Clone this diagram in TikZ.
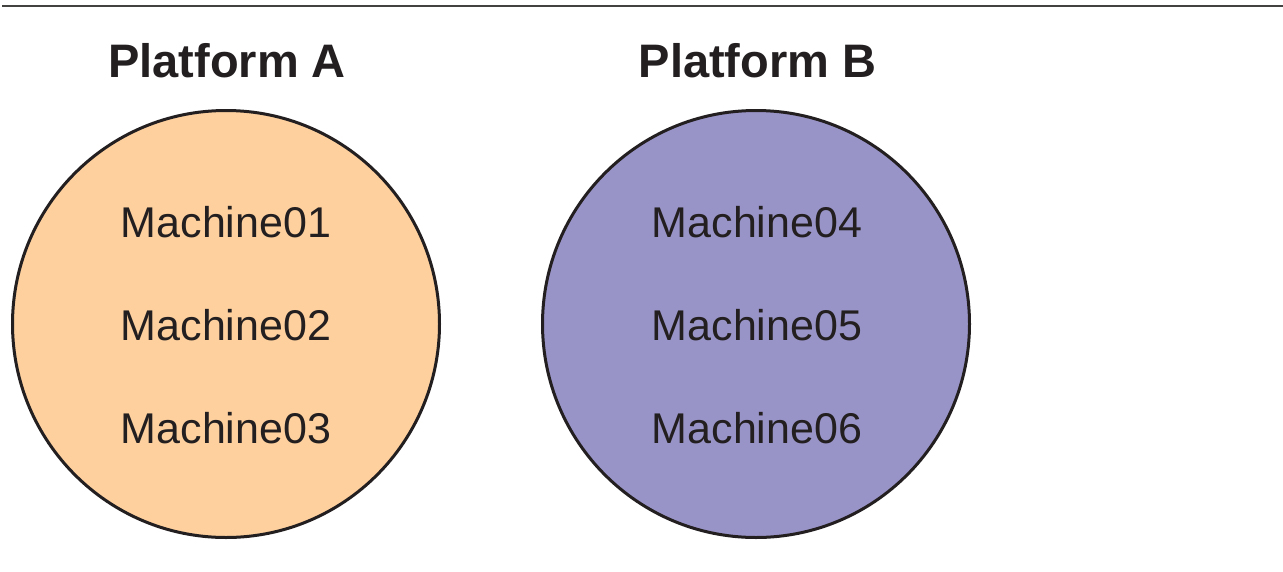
\documentclass[tikz,border=0pt]{standalone}
\usepackage{fontspec}
\setmainfont{Liberation Sans}
\definecolor{txt}{HTML}{231F20}
\definecolor{peach}{HTML}{FDD09E}
\definecolor{lav}{HTML}{9994C7}
\begin{document}
\begin{tikzpicture}[x=1pt,y=-1pt,
  plat/.style={circle, draw=txt, line width=3pt, minimum size=427pt, inner sep=0pt},
  title/.style={anchor=base, text=txt, inner sep=0pt, font=\fontsize{47}{56}\selectfont\bfseries},
  mach/.style={anchor=base, text=txt, inner sep=0pt, font=\fontsize{43}{50}\selectfont}]
\useasboundingbox (0,0) rectangle (1283,571);
\coordinate (l1) at (2,5.5);
\coordinate (l2) at (1283,5.5);
\draw[line width=2pt, draw=txt!85] (l1) -- (l2);
\node[plat, fill=peach] (pa) at (226,324) {};
\node[plat, fill=lav] (pb) at (756,324) {};
\node[title] (ta) at (227,77) {Platform A};
\node[title] (tb) at (757.5,77) {Platform B};
\node[mach] (m1) at (226,237) {Machine01};
\node[mach] (m2) at (226,340) {Machine02};
\node[mach] (m3) at (226,443) {Machine03};
\node[mach] (m4) at (757,237) {Machine04};
\node[mach] (m5) at (757,340) {Machine05};
\node[mach] (m6) at (757,443) {Machine06};
\end{tikzpicture}
\end{document}
